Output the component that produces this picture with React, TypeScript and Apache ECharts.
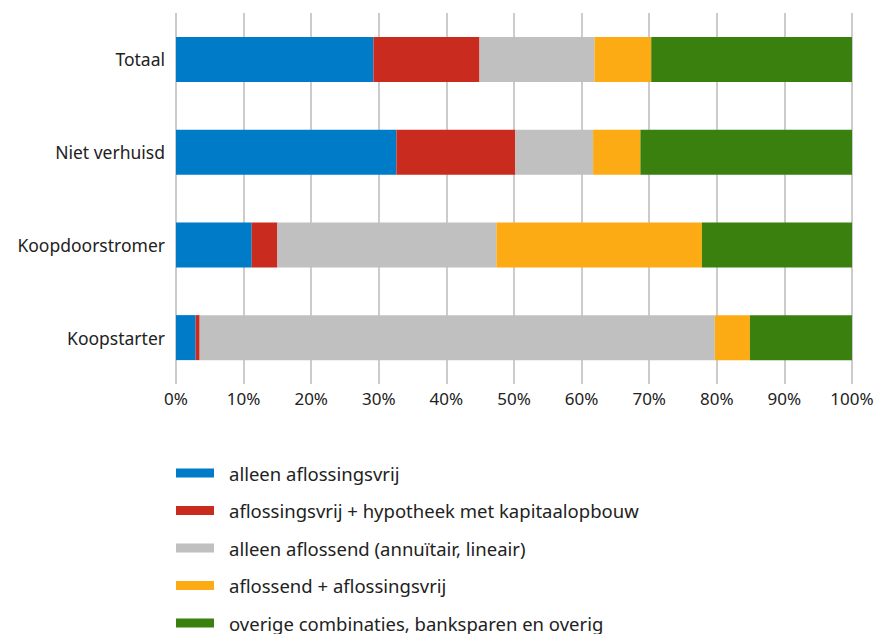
import React, { useEffect, useRef } from "react";
import * as echarts from "echarts";

const categories = ["Totaal", "Niet verhuisd", "Koopdoorstromer", "Koopstarter"];
const seriesNames = [
  "alleen aflossingsvrij",
  "aflossingsvrij + hypotheek met kapitaalopbouw",
  "alleen aflossend (annuïtair, lineair)",
  "aflossend + aflossingsvrij",
  "overige combinaties, banksparen en overig",
];
const alleenAflossingsvrij = [29.2, 32.6, 11.2, 2.9];
const aflossingsvrijKapitaal = [15.7, 17.6, 3.8, 0.6];
const alleenAflossend = [17.0, 11.5, 32.4, 76.2];
const aflossendAflossingsvrij = [8.4, 7.0, 30.4, 5.2];
const overige = [29.7, 31.3, 22.2, 15.1];
const xTicks = [0, 10, 20, 30, 40, 50, 60, 70, 80, 90, 100];
const colors = ["#007bc7", "#c92b1f", "#c0c0c0", "#fdab14", "#3a800e"];

const FONT = "'Noto Sans', 'Open Sans', sans-serif";

export default function App() {
  const ref = useRef<HTMLDivElement>(null);
  useEffect(() => {
    if (!ref.current) return;
    const chart = echarts.init(ref.current, null, { renderer: "svg" });
    const values = [
      alleenAflossingsvrij,
      aflossingsvrijKapitaal,
      alleenAflossend,
      aflossendAflossingsvrij,
      overige,
    ];
    chart.setOption({
      animation: false,
      color: colors,
      grid: { left: 176, right: 25, top: 13, bottom: 250, containLabel: false },
      xAxis: {
        type: "value",
        min: xTicks[0],
        max: xTicks[xTicks.length - 1],
        interval: 10,
        axisLine: { show: false },
        axisTick: { show: false },
        splitLine: { show: true, lineStyle: { color: "#cccccc", width: 2 } },
        axisLabel: {
          formatter: "{value}%",
          color: "#222",
          fontFamily: FONT,
          fontSize: 17,
          margin: 6,
        },
      },
      yAxis: {
        type: "category",
        data: categories,
        inverse: true,
        axisLine: { show: false },
        axisTick: { show: false },
        axisLabel: {
          color: "#222",
          fontFamily: FONT,
          fontSize: 17.5,
          margin: 11,
        },
      },
      legend: {
        orient: "vertical",
        left: 176,
        top: 463,
        height: 200,
        padding: 0,
        icon: "rect",
        itemWidth: 38,
        itemHeight: 9,
        itemGap: 17.5,
        selectedMode: false,
        textStyle: {
          color: "#222",
          fontFamily: FONT,
          fontSize: 18.5,
          lineHeight: 20,
          padding: [0, 0, 0, 10],
        },
        data: seriesNames,
      },
      series: seriesNames.map((name, i) => ({
        name,
        type: "bar",
        stack: "total",
        barWidth: 45,
        data: values[i],
        itemStyle: { color: colors[i] },
      })),
    });
    return () => chart.dispose();
  }, []);
  return (
    <div
      ref={ref}
      style={{ position: "absolute", left: 0, top: 0, width: 877, height: 634 }}
    />
  );
}
